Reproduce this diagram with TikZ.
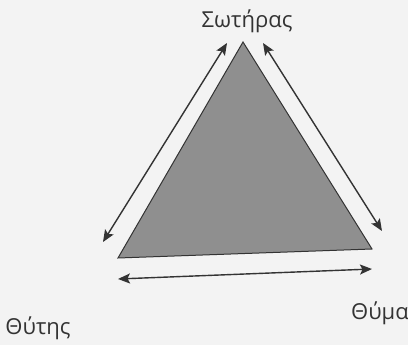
\documentclass[tikz,border=0pt]{standalone}
\usepackage{fontspec}
\setmainfont{Open Sans}
\usepackage{xcolor}
\usetikzlibrary{positioning, arrows, arrows.meta}

\definecolor{bgpaper}{HTML}{F3F3F3}
\definecolor{trifill}{HTML}{8F8F8F}
\definecolor{inkgray}{HTML}{333333}

\begin{document}
\begin{tikzpicture}[x=1pt,y=-1pt,>={Stealth[length=12pt,width=10pt,inset=2.5pt]},
    role/.style={text=inkgray,font=\fontsize{22}{26}\selectfont,inner sep=0pt},
    link/.style={<->,draw=inkgray,line width=1.4pt}]
      \fill[bgpaper] (0,0) rectangle (408,345);
      \useasboundingbox (0,0) rectangle (408,345);

      % corners of the triangle
      \coordinate (top) at (243,42);
      \coordinate (bl) at (118,258);
      \coordinate (br) at (372,249);
      \fill[trifill,draw=inkgray,line width=1pt] (top) -- (bl) -- (br) -- cycle;

      % ends of the arrows
      \coordinate (l1) at (227,43);
      \coordinate (l2) at (103,242);
      \coordinate (r1) at (263,43);
      \coordinate (r2) at (382,231);
      \coordinate (b1) at (118,279);
      \coordinate (b2) at (372,269);

      \draw[link] (l1) -- (l2);
      \draw[link] (r1) -- (r2);
      \draw[link] (b1) -- (b2);

      \node[role] (saviour) at (247,21) {Σωτήρας};
      \node[role] (offender) at (38,328) {Θύτης};
      \node[role,anchor=west] (victim) at (351,313) {Θύμα};
\end{tikzpicture}
\end{document}
